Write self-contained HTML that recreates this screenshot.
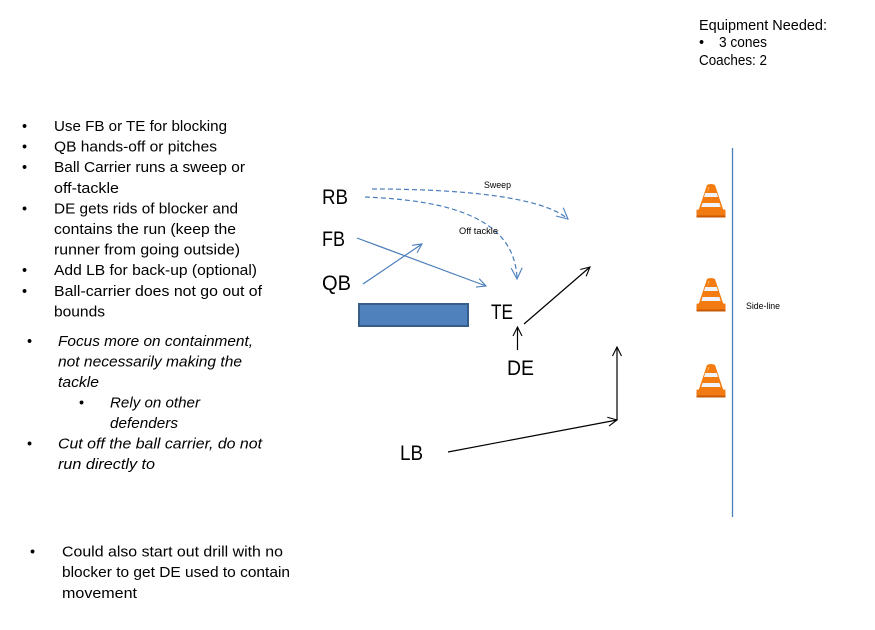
<!DOCTYPE html>
<html><head><meta charset="utf-8"><style>
html,body{margin:0;padding:0;background:#fff;}
svg{display:block;}
text{font-family:"Liberation Sans",sans-serif;fill:#000;}
.t{font-size:14.5px;}
.i{font-size:14.5px;font-style:italic;}
.b{font-size:21px;}
.s{font-size:9.5px;}
</style></head><body>
<svg width="875" height="630" viewBox="0 0 875 630" xmlns="http://www.w3.org/2000/svg">
<defs>
<marker id="ab" markerUnits="userSpaceOnUse" markerWidth="14" markerHeight="14" refX="10" refY="6" orient="auto">
<path d="M1,1.5 L10,6 L1,10.5" fill="none" stroke="#4a7ebb" stroke-width="1.1"/>
</marker>
<marker id="ab2" markerUnits="userSpaceOnUse" markerWidth="16" markerHeight="16" refX="12" refY="7" orient="auto">
<path d="M1,1.5 L12,7 L1,12.5" fill="none" stroke="#4a7ebb" stroke-width="1.1"/>
</marker>
<marker id="ak" markerUnits="userSpaceOnUse" markerWidth="14" markerHeight="14" refX="10" refY="6" orient="auto">
<path d="M1,1.5 L10,6 L1,10.5" fill="none" stroke="#000" stroke-width="1.1"/>
</marker>
<g id="cone">
<path d="M-4,0 Q0,-2 4,0 L13,27 L-13,27 Z" fill="#f47b0f"/>
<path d="M-3,2 L-1.5,2 L-3.5,8 Z" fill="#ffb060"/>
<path d="M-5.8,8 L5.8,8 L7,12 L-7,12 Z" fill="#f0f4fa"/>
<path d="M-8.4,18 L8.4,18 L9.7,22 L-9.7,22 Z" fill="#f0f4fa"/>
<rect x="-14.5" y="24.5" width="29" height="7.5" rx="1" fill="#f17a12"/>
<rect x="-14.5" y="30.5" width="29" height="2" fill="#c85a05"/>
</g>
</defs>

<!-- Equipment -->
<text class="t" x="699" y="30" textLength="128" lengthAdjust="spacingAndGlyphs">Equipment Needed:</text>
<text class="t" x="699" y="47">•</text>
<text class="t" x="719" y="47" textLength="48" lengthAdjust="spacingAndGlyphs">3 cones</text>
<text class="t" x="699" y="65" textLength="68" lengthAdjust="spacingAndGlyphs">Coaches: 2</text>

<!-- Left bullets -->
<g class="t">
<text x="22" y="131">•</text>
<text x="54" y="131" textLength="173" lengthAdjust="spacingAndGlyphs">Use FB or TE for blocking</text>
<text x="22" y="151.6">•</text>
<text x="54" y="151.6" textLength="163" lengthAdjust="spacingAndGlyphs">QB hands-off or pitches</text>
<text x="22" y="172.2">•</text>
<text x="54" y="172.2" textLength="191" lengthAdjust="spacingAndGlyphs">Ball Carrier runs a sweep or</text>
<text x="54" y="192.8" textLength="65" lengthAdjust="spacingAndGlyphs">off-tackle</text>
<text x="22" y="213.4">•</text>
<text x="54" y="213.4" textLength="184" lengthAdjust="spacingAndGlyphs">DE gets rids of blocker and</text>
<text x="54" y="234" textLength="182" lengthAdjust="spacingAndGlyphs">contains the run (keep the</text>
<text x="54" y="254.6" textLength="186" lengthAdjust="spacingAndGlyphs">runner from going outside)</text>
<text x="22" y="275.2">•</text>
<text x="54" y="275.2" textLength="203" lengthAdjust="spacingAndGlyphs">Add LB for back-up (optional)</text>
<text x="22" y="295.8">•</text>
<text x="54" y="295.8" textLength="208" lengthAdjust="spacingAndGlyphs">Ball-carrier does not go out of</text>
<text x="54" y="316.4" textLength="51" lengthAdjust="spacingAndGlyphs">bounds</text>
</g>

<g class="i">
<text x="27" y="346" style="font-style:normal">•</text>
<text x="58" y="346" textLength="195" lengthAdjust="spacingAndGlyphs">Focus more on containment,</text>
<text x="58" y="366.5" textLength="184" lengthAdjust="spacingAndGlyphs">not necessarily making the</text>
<text x="58" y="387" textLength="41" lengthAdjust="spacingAndGlyphs">tackle</text>
<text x="79" y="407.5" style="font-style:normal">•</text>
<text x="110" y="407.5" textLength="90" lengthAdjust="spacingAndGlyphs">Rely on other</text>
<text x="110" y="428" textLength="68" lengthAdjust="spacingAndGlyphs">defenders</text>
<text x="27" y="448.5" style="font-style:normal">•</text>
<text x="58" y="448.5" textLength="204" lengthAdjust="spacingAndGlyphs">Cut off the ball carrier, do not</text>
<text x="58" y="469" textLength="97" lengthAdjust="spacingAndGlyphs">run directly to</text>
</g>

<g class="t">
<text x="30" y="556.5">•</text>
<text x="62" y="556.5" textLength="221" lengthAdjust="spacingAndGlyphs">Could also start out drill with no</text>
<text x="62" y="577.2" textLength="228" lengthAdjust="spacingAndGlyphs">blocker to get DE used to contain</text>
<text x="62" y="597.8" textLength="75" lengthAdjust="spacingAndGlyphs">movement</text>
</g>

<!-- Player labels -->
<text class="b" x="322" y="204" textLength="26" lengthAdjust="spacingAndGlyphs">RB</text>
<text class="b" x="322" y="246" textLength="23" lengthAdjust="spacingAndGlyphs">FB</text>
<text class="b" x="322" y="290" textLength="29" lengthAdjust="spacingAndGlyphs">QB</text>
<text class="b" x="491" y="319" textLength="22" lengthAdjust="spacingAndGlyphs">TE</text>
<text class="b" x="507" y="375" textLength="27" lengthAdjust="spacingAndGlyphs">DE</text>
<text class="b" x="400" y="460" textLength="23" lengthAdjust="spacingAndGlyphs">LB</text>

<!-- Blocker rect -->
<rect x="359" y="304" width="109" height="22" fill="#4f81bd" stroke="#385d8a" stroke-width="2"/>

<!-- Blue arrows -->
<line x1="357" y1="238" x2="486" y2="286" stroke="#4a7ebb" stroke-width="1.2" marker-end="url(#ab)"/>
<line x1="363" y1="284" x2="422" y2="244" stroke="#4a7ebb" stroke-width="1.2" marker-end="url(#ab)"/>
<path d="M372,189 C450,189 540,195 568,219" fill="none" stroke="#4a7ebb" stroke-width="1.2" stroke-dasharray="5 3" marker-end="url(#ab2)"/>
<path d="M365,197 C430,200 515,210 517,279" fill="none" stroke="#4a7ebb" stroke-width="1.2" stroke-dasharray="5 3" marker-end="url(#ab2)"/>
<text class="s" x="484" y="188" textLength="27" lengthAdjust="spacingAndGlyphs">Sweep</text>
<text class="s" x="459" y="234" textLength="39" lengthAdjust="spacingAndGlyphs">Off tackle</text>

<!-- Black arrows -->
<line x1="517.5" y1="350" x2="517.5" y2="327" stroke="#000" stroke-width="1.2" marker-end="url(#ak)"/>
<line x1="524" y1="324" x2="590" y2="267" stroke="#000" stroke-width="1.2" marker-end="url(#ak)"/>
<line x1="448" y1="452" x2="617" y2="420" stroke="#000" stroke-width="1.2" marker-end="url(#ak)"/>
<line x1="617" y1="420" x2="617" y2="347" stroke="#000" stroke-width="1.2" marker-end="url(#ak)"/>

<!-- Sideline -->
<line x1="732.5" y1="148" x2="732.5" y2="517" stroke="#4a7ebb" stroke-width="1.3"/>
<text class="s" x="746" y="309" textLength="34" lengthAdjust="spacingAndGlyphs">Side-line</text>

<!-- Cones -->
<use href="#cone" x="711" y="185"/>
<use href="#cone" x="711" y="279"/>
<use href="#cone" x="711" y="365"/>
</svg>
</body></html>
